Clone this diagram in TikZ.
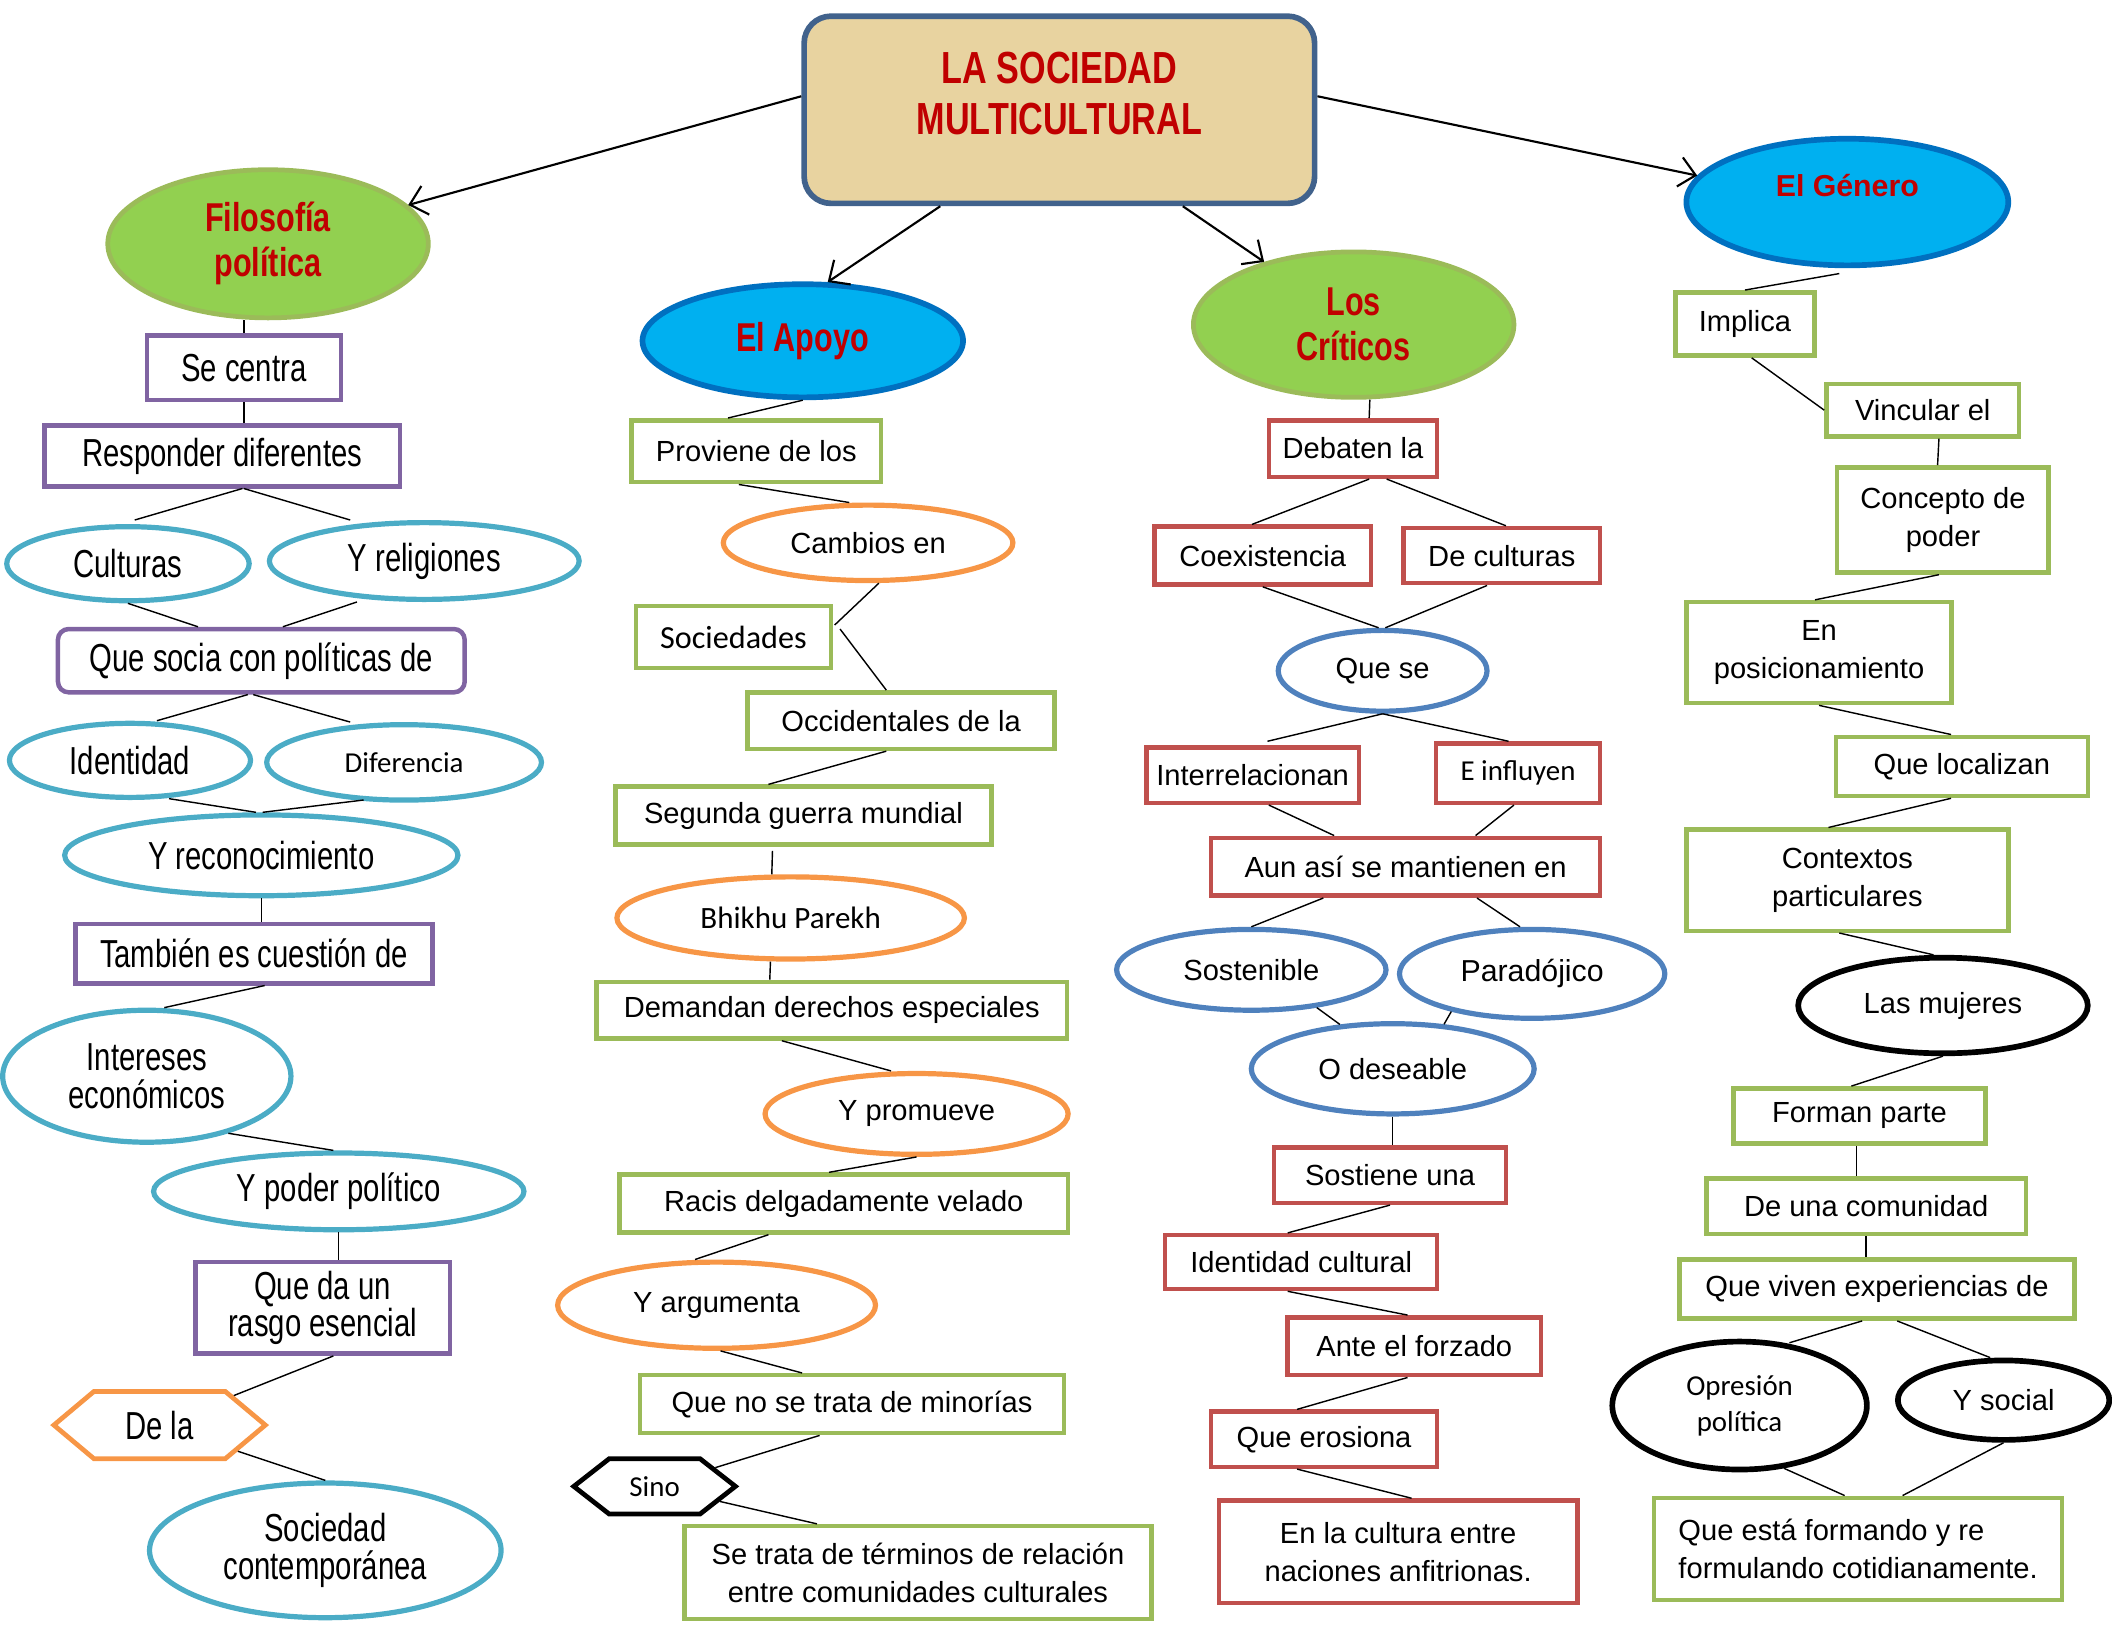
\documentclass[tikz,border=0pt]{standalone}
\usepackage{fontspec}
\setmainfont{Liberation Sans}
\newfontfamily\narrowfont[FakeStretch=0.75]{Liberation Sans}
\newfontfamily\headfont[FakeStretch=0.76]{Liberation Sans}
\newfontfamily\calfont{Carlito}
\usepackage{xcolor}
\usepackage{tikz}
\usetikzlibrary{arrows.meta,shapes.geometric,shapes.symbols,calc}

\definecolor{cpurp}{RGB}{128,100,162}
\definecolor{cteal}{RGB}{75,172,198}
\definecolor{cgreen}{RGB}{155,187,89}
\definecolor{corange}{RGB}{247,150,70}
\definecolor{cred}{RGB}{192,80,77}
\definecolor{cblue}{RGB}{79,129,189}
\definecolor{clgreen}{RGB}{146,208,80}
\definecolor{ccyan}{RGB}{0,176,240}
\definecolor{cdblue}{RGB}{0,112,192}
\definecolor{ctan}{RGB}{232,211,160}
\definecolor{cframe}{RGB}{65,98,140}
\definecolor{mapred}{RGB}{192,0,0}

\begin{document}
\begin{tikzpicture}[x=0.2mm,y=-0.2mm,
  every node/.style={inner sep=0pt},
  dim/.style 2 args={minimum width=#1*0.2mm,minimum height=#2*0.2mm},
  txt/.style={font=\fontsize{12.3}{16}\selectfont},
  ntxt/.style={font=\narrowfont\fontsize{16.5}{16}\selectfont},
  ctxt/.style={font=\calfont\fontsize{12.2}{15.3}\selectfont},
  htxt/.style={font=\headfont\bfseries\fontsize{17}{19}\selectfont,text=mapred},
  titlebox/.style={draw=cframe,fill=ctan,line width=2.4pt,rounded corners=4mm},
  grell/.style={ellipse,draw=cgreen,fill=clgreen,line width=2pt,htxt,align=center},
  bluell/.style={ellipse,draw=cdblue,fill=ccyan,line width=2.4pt,htxt,align=center},
  pbox/.style={draw=cpurp,line width=1.9pt,ntxt,align=center},
  tell/.style={ellipse,draw=cteal,line width=2.2pt,ntxt,align=center},
  gbox/.style={draw=cgreen,line width=1.9pt,txt,align=center},
  oell/.style={ellipse,draw=corange,line width=2.2pt,txt,align=center},
  rbox/.style={draw=cred,line width=1.9pt,txt,align=center},
  bell/.style={ellipse,draw=cblue,line width=2.2pt,txt,align=center},
  kell/.style={ellipse,draw=black,line width=2.4pt,txt,align=center},
  hexa/.style={signal,signal to=east and west,line width=2pt,align=center},
  link/.style={line width=0.6pt},
  arr/.style={line width=0.9pt,-{Straight Barb[length=2.4mm,width=4.4mm]}},
]
\useasboundingbox (0,0) rectangle (1568,1212);

% title
\node[titlebox,dim={379}{139}] (title) at (786.5,81.5) {};
\node[font=\headfont\bfseries\fontsize{19}{21.3}\selectfont,text=mapred,align=center] (titletxt) at (786.5,69.5) {LA SOCIEDAD\\MULTICULTURAL};

% Filosofia politica
\node[grell,dim={238}{110}] (filo) at (199,181) {Filosofía\\política};
\node[pbox,dim={144}{48}] (secen) at (181,273) {Se centra};
\node[pbox,dim={264}{45}] (resp) at (165,338.5) {Responder diferentes};
\node[tell,dim={180}{55}] (cult) at (95,418.5) {Culturas};
\node[tell,dim={230}{57}] (relig) at (315,416.5) {Y religiones};
\node[pbox,rounded corners=1.6mm,dim={302}{47}] (socia) at (194,490.5) {Que socia con políticas de};
\node[tell,dim={179}{55}] (ident) at (96.5,564.5) {Identidad};
\node[tell,ctxt,dim={204}{56}] (difer) at (300,566) {Diferencia};
\node[tell,dim={292}{60}] (recon) at (194,635) {Y reconocimiento};
\node[pbox,dim={265}{44}] (tamb) at (188.5,708) {También es cuestión de};
\node[tell,dim={214}{98}] (inter) at (109,799) {Intereses\\económicos};
\node[tell,dim={275}{57}] (poder) at (251.5,884.5) {Y poder político};
\node[pbox,dim={189}{68}] (rasgo) at (239.5,971) {Que da un\\rasgo esencial};
\node[hexa,draw=corange,ntxt,signal pointer angle=80,dim={157}{50}] (dela) at (118.5,1058) {De la};
\node[tell,dim={261}{100}] (socont) at (241.5,1151) {Sociedad\\contemporánea};

% El Apoyo
\node[bluell,dim={238}{84}] (apoyo) at (596,253) {El Apoyo};
\node[gbox,dim={185}{46}] (prov) at (561.5,335) {Proviene de los};
\node[oell,dim={215}{56}] (camb) at (644.5,403) {Cambios en};
\node[gbox,font=\calfont\fontsize{13.6}{16}\selectfont,dim={145}{46}] (socied) at (544.5,473) {Sociedades};
\node[gbox,dim={228}{42}] (occid) at (669,535) {Occidentales de la};
\node[gbox,dim={279}{43}] (segun) at (596.5,605.5) {Segunda guerra mundial};
\node[oell,font=\calfont\fontsize{13.1}{16}\selectfont,dim={258}{61}] (bhikhu) at (587,681.5) {Bhikhu Parekh};
\node[gbox,dim={349}{42}] (deman) at (617.5,750) {Demandan derechos especiales};
\node[oell,dim={225}{60}] (promu) at (680.5,827) {Y promueve};
\node[gbox,dim={333}{43}] (racis) at (626.5,893.5) {Racis delgadamente velado};
\node[oell,dim={236}{64}] (argu) at (532,969) {Y argumenta};
\node[gbox,dim={315}{43}] (minor) at (632.5,1042.5) {Que no se trata de minorías};
\node[hexa,draw=black,ctxt,signal pointer angle=76,dim={120}{41}] (sino) at (486,1103.5) {Sino};
\node[gbox,dim={347}{69}] (termi) at (681.5,1167.5) {Se trata de términos de relación\\entre comunidades culturales};

% Los Criticos
\node[grell,dim={238}{108}] (criti) at (1005,241) {Los\\Críticos};
\node[rbox,dim={125}{42}] (debat) at (1004.5,333) {Debaten la};
\node[rbox,dim={161}{43}] (coex) at (937.5,412.5) {Coexistencia};
\node[rbox,dim={146}{41}] (decult) at (1115,412.5) {De culturas};
\node[bell,dim={155}{60}] (quese) at (1026.5,498) {Que se};
\node[rbox,dim={158}{41}] (interr) at (930,575.5) {Interrelacionan};
\node[rbox,ctxt,dim={122}{44}] (influ) at (1127,574) {E influyen};
\node[rbox,dim={289}{43}] (aun) at (1043.5,643.5) {Aun así se mantienen en};
\node[bell,dim={200}{60}] (sosten) at (929,720) {Sostenible};
\node[bell,font=\fontsize{12.8}{16}\selectfont,dim={197}{66}] (parad) at (1137.5,723) {Paradójico};
\node[bell,dim={210}{67}] (odes) at (1034,793.5) {O deseable};
\node[rbox,dim={172}{41}] (sostu) at (1032,872.5) {Sostiene una};
\node[rbox,dim={202}{40}] (idcult) at (966,937) {Identidad cultural};
\node[rbox,dim={188}{43}] (ante) at (1050,999.5) {Ante el forzado};
\node[rbox,dim={168}{41}] (eros) at (983,1068.5) {Que erosiona};
\node[rbox,dim={266}{76}] (encult) at (1038,1152) {En la cultura entre\\naciones anfitrionas.};

% El Genero
\node[bluell,dim={239}{94}] (genero) at (1371.5,150) {};
\node[font=\bfseries\fontsize{12.8}{15}\selectfont,text=mapred] (gentxt) at (1371.5,138) {El Género};
\node[gbox,dim={103}{47}] (impl) at (1295.5,240.5) {Implica};
\node[gbox,dim={143}{39}] (vinc) at (1427.5,304.5) {Vincular el};
\node[gbox,dim={157}{78}] (conc) at (1442.5,386) {Concepto de\\poder};
\node[gbox,dim={197}{75}] (posic) at (1350.5,484.5) {En\\posicionamiento};
\node[gbox,dim={187}{44}] (local) at (1456.5,569) {Que localizan};
\node[gbox,dim={239}{75}] (contx) at (1371.5,653.5) {Contextos\\particulares};
\node[kell,dim={215}{71}] (mujer) at (1442.5,746.5) {Las mujeres};
\node[gbox,dim={187}{41}] (forman) at (1380.5,828.5) {Forman parte};
\node[gbox,dim={237}{41}] (comun) at (1385.5,895.5) {De una comunidad};
\node[gbox,dim={293}{44}] (viven) at (1393.5,957) {Que viven experiencias de};
\node[kell,ctxt,dim={189}{95}] (opres) at (1291.5,1043.5) {Opresión\\política};
\node[kell,dim={157}{59}] (social) at (1487.5,1039.5) {Y social};
\node[gbox,align=left,dim={303}{76}] (formula) at (1379.5,1150) {Que está formando y re\\formulando cotidianamente.};

\draw[arr] (title.177) -- (filo);
\draw[arr] (title.219) -- (apoyo.67);
\draw[arr] (title.-38) -- (criti.145);
\draw[arr] (title.3) -- (genero.170);

\draw[link] (filo.south -| secen.north) -- (secen.north);
\draw[link] (secen.south) -- (resp.north -| secen.south);
\draw[link] ($(resp.south)+(15,0)$) -- ($(cult.north)+(5,-3)$);
\draw[link] ($(resp.south)+(16,0)$) -- ($(relig.north)+(-55,0)$);
\draw[link] (cult.south) -- ($(socia.north)+(-47,0)$);
\draw[link] ($(relig.south)+(-50,0)$) -- ($(socia.north)+(16,0)$);
\draw[link] ($(socia.south)+(-10,0)$) -- ($(ident.north)+(20,0)$);
\draw[link] ($(socia.south)+(-6,0)$) -- ($(difer.north)+(-40,0)$);
\draw[link] ($(ident.south)+(29,-1)$) -- ($(recon.north)+(-4,0)$);
\draw[link] ($(difer.south)+(-30,-2)$) -- ($(recon.north)+(1,0)$);
\draw[link] (recon.south) -- (tamb.north -| recon.south);
\draw[link] ($(tamb.south)+(8,0)$) -- ($(inter.north)+(13,0)$);
\draw[link] (inter.-35) -- ($(poder.north)+(-4,0)$);
\draw[link] (poder.south) -- (rasgo.north -| poder.south);
\draw[link] ($(rasgo.south)+(8,0)$) -- (dela);
\draw[link] (dela) -- (socont.north);

\draw[link] (apoyo.south) -- ($(prov.north)+(-21,0)$);
\draw[link] ($(prov.south)+(-13,0)$) -- ($(camb.north)+(-14,0)$);
\draw[link] ($(camb.south)+(8,0)$) -- ($(socied.east)+(1,-9)$);
\draw[link] ($(socied.east)+(5,-6)$) -- ($(occid.north)+(-11,0)$);
\draw[link] ($(occid.south)+(-11,0)$) -- ($(segun.north)+(-26,0)$);
\draw[link] ($(segun.south)+(-23,3)$) -- ($(bhikhu.north)+(-14,0)$);
\draw[link] ($(bhikhu.south)+(-15,0)$) -- ($(deman.north)+(-46,0)$);
\draw[link] ($(deman.south)+(-37,0)$) -- ($(promu.north)+(-19,0)$);
\draw[link] (promu.south) -- ($(racis.north)+(-11,0)$);
\draw[link] ($(racis.south)+(-56,0)$) -- ($(argu.north)+(-16,0)$);
\draw[link] ($(argu.south)+(3,0)$) -- ($(minor.north)+(-37,0)$);
\draw[link] ($(minor.south)+(-24,0)$) -- (sino);
\draw[link] (sino) -- ($(termi.north)+(-75,0)$);

\draw[link] ($(criti.south)+(12,0)$) -- ($(debat.north)+(12,0)$);
\draw[link] ($(debat.south)+(12,0)$) -- ($(coex.north)+(-8,0)$);
\draw[link] ($(debat.south)+(25,0)$) -- ($(decult.north)+(3,0)$);
\draw[link] (coex.south) -- ($(quese.north)+(-3,0)$);
\draw[link] ($(decult.south)+(-11,0)$) -- ($(quese.north)+(2,0)$);
\draw[link] (quese.south) -- ($(interr.north)+(11,-3)$);
\draw[link] (quese.south) -- ($(influ.north)+(-7,0)$);
\draw[link] ($(interr.south)+(12,0)$) -- ($(aun.north)+(-53,0)$);
\draw[link] ($(influ.south)+(-3,0)$) -- ($(aun.north)+(52,0)$);
\draw[link] ($(aun.south)+(-61,0)$) -- (sosten.north);
\draw[link] ($(aun.south)+(53,0)$) -- ($(parad.north)+(-9,0)$);
\draw[link] (sosten.-30) -- (odes.140);
\draw[link] (parad.-155) -- (odes.41);
\draw[link] (odes.south) -- (sostu.north -| odes.south);
\draw[link] (sostu.south) -- ($(idcult.north)+(-10,0)$);
\draw[link] ($(idcult.south)+(-10,0)$) -- ($(ante.north)+(-5,0)$);
\draw[link] ($(ante.south)+(-5,0)$) -- ($(eros.north)+(-20,0)$);
\draw[link] ($(eros.south)+(-20,0)$) -- ($(encult.north)+(10,0)$);

\draw[link] ($(genero.south)+(-6,4)$) -- (impl.north);
\draw[link] ($(impl.south)+(5,0)$) -- (vinc.west);
\draw[link] ($(vinc.south)+(12,0)$) -- ($(conc.north)+(-4,0)$);
\draw[link] ($(conc.south)+(-3,0)$) -- ($(posic.north)+(-3,0)$);
\draw[link] (posic.south) -- ($(local.north)+(-8,0)$);
\draw[link] ($(local.south)+(-8,0)$) -- ($(contx.north)+(-14,0)$);
\draw[link] ($(contx.south)+(-6,0)$) -- ($(mujer.north)+(-7,0)$);
\draw[link] (mujer.south) -- ($(forman.north)+(-6,0)$);
\draw[link] ($(forman.south)+(-2,0)$) -- ($(comun.north)+(-7,0)$);
\draw[link] (comun.south) -- ($(viven.north)+(-8,0)$);
\draw[link] ($(viven.south)+(-11,0)$) -- ($(opres.north)+(37,3)$);
\draw[link] ($(viven.south)+(15,0)$) -- ($(social.north)+(-10,0)$);
\draw[link] ($(opres.south)+(33,-3)$) -- ($(formula.north)+(-10,0)$);
\draw[link] (social.south) -- ($(formula.north)+(33,0)$);

\end{tikzpicture}
\end{document}
